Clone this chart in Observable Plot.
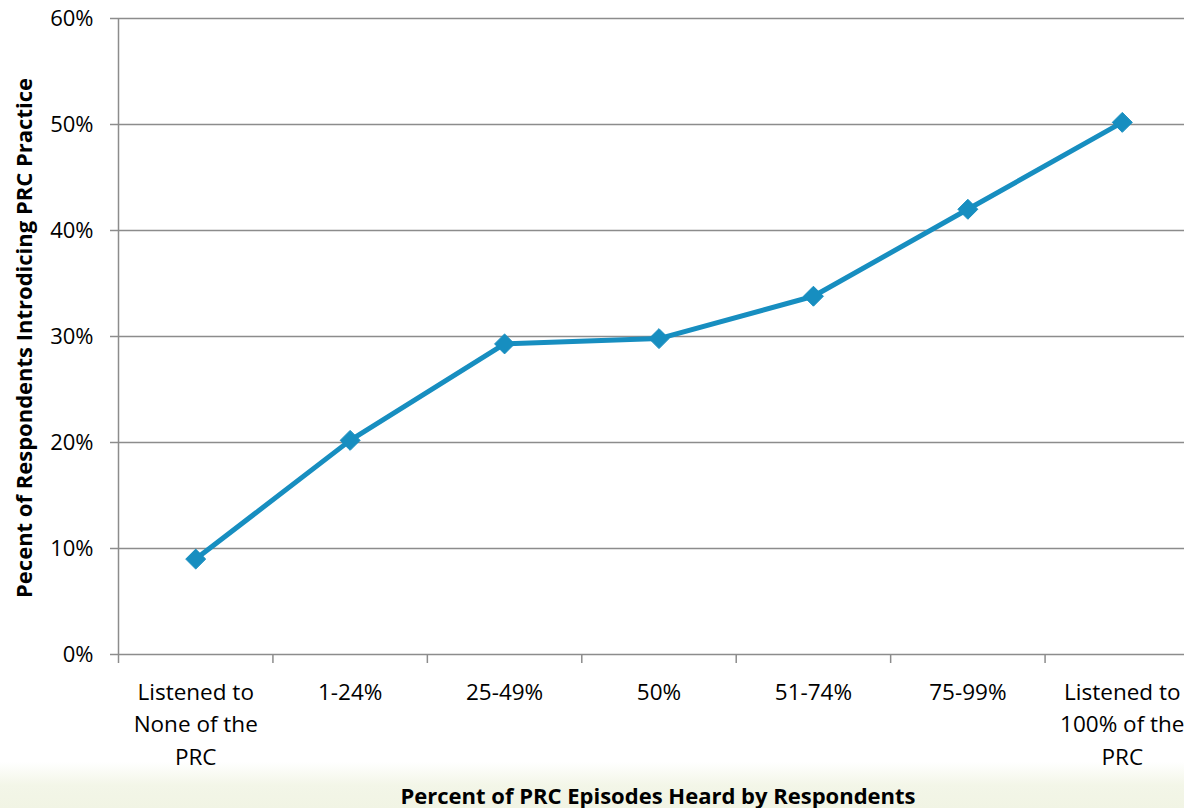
<!DOCTYPE html>
<html>
<head>
<meta charset="utf-8">
<script src="https://cdn.jsdelivr.net/npm/d3@7"></script>
<script src="https://cdn.jsdelivr.net/npm/@observablehq/plot@0.6"></script>
<style>
  html, body { margin: 0; padding: 0; width: 1184px; height: 808px; overflow: hidden;
    background: linear-gradient(to bottom, #ffffff 0px, #ffffff 762px, #f3f6e8 785px, #f1f4e4 808px); }
  #wrap { position: relative; width: 1184px; height: 808px; }
  #chart { position: absolute; left: 0; top: 0; }
  .ytitle { position: absolute; left: 23px; top: 338px; transform: translate(-50%, -50%) rotate(-90deg);
    white-space: nowrap; font: bold 22px "Open Sans", sans-serif; color: #000; }
  .xtitle { position: absolute; left: 658px; top: 795px; transform: translate(-50%, -50%);
    white-space: nowrap; font: bold 22px "Open Sans", sans-serif; color: #000; }
</style>
</head>
<body>
<div id="wrap">
  <div id="chart"></div>
  <div class="ytitle">Pecent of Respondents Introdicing PRC Practice</div>
  <div class="xtitle">Percent of PRC Episodes Heard by Respondents</div>
</div>
<script>
const categories = ["Listened to\nNone of the\nPRC", "1-24%", "25-49%", "50%", "51-74%", "75-99%", "Listened to\n100% of the\nPRC"];
const values = [9.0, 20.2, 29.3, 29.8, 33.8, 42.0, 50.2];
const yTicks = [0, 10, 20, 30, 40, 50, 60];
const bandEdges = [0, 1, 2, 3, 4, 5, 6, 7];

const data = categories.map((c, i) => ({pos: i + 0.5, label: c, value: values[i]}));

const lineColor = "#178ec0";
const gridColor = "#8c8c8c";

const chart = Plot.plot({
  width: 1184,
  height: 808,
  marginTop: 18,
  marginLeft: 118,
  marginBottom: 154,
  marginRight: 0,
  style: {background: "transparent", fontFamily: "Open Sans, sans-serif", fontSize: "22px", color: "#000"},
  x: {type: "linear", domain: [0, 7], range: [118, 1199]},
  y: {domain: [0, 60]},
  marks: [
    Plot.ruleY(yTicks, {y: d => d, x1: 0, x2: 7, stroke: gridColor, strokeWidth: 1.5}),
    Plot.ruleX([0], {x: d => d, y1: 0, y2: 60, stroke: gridColor, strokeWidth: 1.5}),
    Plot.axisY(yTicks, {tickSize: 8, tickPadding: 17, tickFormat: d => d + "%", stroke: gridColor, strokeWidth: 1.5, fill: "#000", fontSize: 22, label: null}),
    Plot.axisX(bandEdges, {tickSize: 9, tickFormat: () => "", stroke: gridColor, strokeWidth: 1.5, label: null}),
    Plot.text(data, {x: "pos", y: 0, text: "label", dy: 22, lineAnchor: "top", lineHeight: 1.45, fontSize: 22.5, fill: "#000", textAnchor: "middle"}),
    Plot.line(data, {x: "pos", y: "value", stroke: lineColor, strokeWidth: 5}),
    Plot.dot(data, {x: "pos", y: "value", symbol: "diamond2", r: 9, fill: lineColor, stroke: lineColor, strokeWidth: 1})
  ]
});
document.getElementById("chart").appendChild(chart);
</script>
</body>
</html>
